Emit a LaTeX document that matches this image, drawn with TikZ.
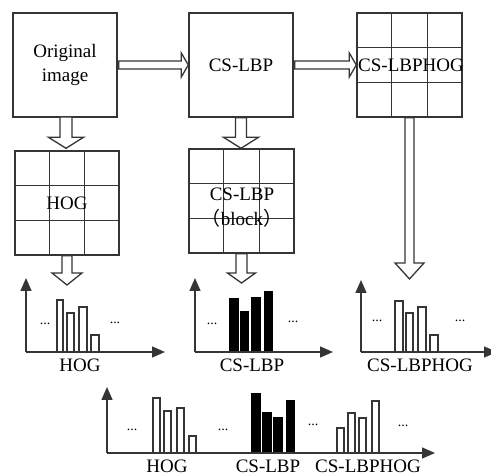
\documentclass[tikz,border=0pt]{standalone}
\usepackage{fontspec}
\setmainfont{Liberation Serif}
\newfontfamily\cjk{Noto Sans CJK SC}
\usetikzlibrary{arrows.meta,calc}
\definecolor{lc}{HTML}{353535}
\tikzset{
  boxline/.style={draw=lc, line width=1.4pt},
  bigbox/.style={boxline, minimum width=104pt, minimum height=104pt, inner sep=0pt, align=center, font=\fontsize{19}{24}\selectfont},
  gridbox/.style={boxline, minimum width=105pt, minimum height=104pt, inner sep=0pt},
  blockarrow/.style={draw=lc, line width=1.3pt, fill=white, line join=miter},
  axisline/.style={draw=lc, line width=1.4pt, -{Triangle[length=13pt,width=11pt]}},
  hbar/.style={draw=lc, line width=1.3pt, fill=white},
  bbar/.style={draw=black, line width=1.3pt, fill=black},
  lbl/.style={font=\fontsize{19}{24}\selectfont, inner sep=0pt},
  dotlbl/.style={font=\fontsize{14}{14}\selectfont, inner sep=0pt, anchor=base}
}
\newcommand{\gridlines}[1]{%
  \draw[boxline] ($(#1.north west)!1/3!(#1.north east)$) -- ($(#1.south west)!1/3!(#1.south east)$);
  \draw[boxline] ($(#1.north west)!2/3!(#1.north east)$) -- ($(#1.south west)!2/3!(#1.south east)$);
  \draw[boxline] ($(#1.north west)!1/3!(#1.south west)$) -- ($(#1.north east)!1/3!(#1.south east)$);
  \draw[boxline] ($(#1.north west)!2/3!(#1.south west)$) -- ($(#1.north east)!2/3!(#1.south east)$);}
\newcommand{\hblock}[2]{%
  \draw[blockarrow] let \p1=(#1), \p2=(#2) in
   (\x1+1pt,\y1+4pt) -- (\x2-7pt,\y1+4pt) -- (\x2-7pt,\y1+12pt) -- (\x2,\y1) -- (\x2-7pt,\y1-12pt) -- (\x2-7pt,\y1-4pt) -- (\x1+1pt,\y1-4pt) -- cycle;}
\newcommand{\vblock}[5]{%
  \draw[blockarrow] let \p1=(#1), \p2=(#2) in
   (\x1-#3,\y1) -- (\x1-#3,\y2+#5) -- (\x1-#4,\y2+#5) -- (\x1,\y2) -- (\x1+#4,\y2+#5) -- (\x1+#3,\y2+#5) -- (\x1+#3,\y1) -- cycle;}
\begin{document}
\begin{tikzpicture}[x=1pt,y=-1pt]
\useasboundingbox (0,0) rectangle (491,476);
% top row
\node[bigbox] (orig) at (65,65) {Original\\image};
\node[bigbox] (cslbp) at (241,65) {CS-LBP};
\node[gridbox] (lbphog) at (409.5,65) {};
\gridlines{lbphog}
\node[lbl] (lbphogtxt) at (411,65) {CS-LBPHOG};
% second row
\node[gridbox, minimum width=104pt] (hog) at (67,203) {};
\gridlines{hog}
\node[lbl] (hogtxt) at (hog.center) {HOG};
\node[gridbox] (block) at (241.5,201) {};
\gridlines{block}
\node[lbl, align=center, font=\fontsize{19}{25}\selectfont] (blocktxt) at (242,207.5) {CS-LBP\\{\cjk （}block{\cjk ）}};
% block arrows
\hblock{orig.east}{cslbp.west}
\hblock{cslbp.east}{lbphog.west}
\coordinate (origmid) at (66,117);
\vblock{origmid}{$(hog.north)+(0,-2)$}{6pt}{17.5pt}{11pt}
\vblock{cslbp.south}{$(block.north)+(0,0)$}{5.5pt}{17.5pt}{11pt}
\coordinate (hogin) at (67,285);
\coordinate (lbpin) at (241.5,283);
\coordinate (lbphogin) at (409.5,279);
\vblock{hog.south}{hogin}{5pt}{15pt}{12pt}
\vblock{block.south}{lbpin}{5.5pt}{14pt}{10pt}
\vblock{lbphog.south}{lbphogin}{4.5pt}{14.5pt}{16pt}
% HOG histogram
\coordinate (o1) at (26,352);
\foreach \a/\b/\t in {57/63/300,67/74/313,79/87/307,91/99/335}
  \draw[hbar] (\a,352) rectangle (\b,\t);
\coordinate (y1) at (26,278);
\coordinate (x1) at (165,352);
\draw[axisline] (o1) -- (y1);
\draw[axisline] (o1) -- (x1);
\node[dotlbl] (d1a) at (45,324.5) {...};
\node[dotlbl] (d1b) at (115,323.5) {...};
\node[lbl] (l1) at (80,365.5) {HOG};
% CS-LBP histogram
\coordinate (o2) at (195,352);
\foreach \a/\b/\t in {230/238/299,241/248/312,252/260/298,265/272/292}
  \draw[bbar] (\a,352) rectangle (\b,\t);
\coordinate (y2) at (195,278);
\coordinate (x2) at (333,352);
\draw[axisline] (o2) -- (y2);
\draw[axisline] (o2) -- (x2);
\node[dotlbl] (d2a) at (212,324.5) {...};
\node[dotlbl] (d2b) at (293,322.5) {...};
\node[lbl] (l2) at (252,365.5) {CS-LBP};
% CS-LBPHOG histogram
\coordinate (o3) at (361,352);
\foreach \a/\b/\t in {395/403/301,406/413/313,418/426/307,430/438/335}
  \draw[hbar] (\a,352) rectangle (\b,\t);
\coordinate (y3) at (361,280);
\coordinate (x3) at (497,352);
\draw[axisline] (o3) -- (y3);
\draw[axisline] (o3) -- (x3);
\node[dotlbl] (d3a) at (377,321.5) {...};
\node[dotlbl] (d3b) at (460,321.5) {...};
\node[lbl] (l3) at (420,365.5) {CS-LBPHOG};
% combined histogram
\coordinate (o4) at (107,453);
\foreach \a/\b/\t in {153/160/398,164/171/411,177/184/408,189/196/436,337/344/428,348/355/413,359/366/418,372/379/401}
  \draw[hbar] (\a,453) rectangle (\b,\t);
\foreach \a/\b/\t in {252/260/394,263/271/413,274/282/418,287/294/401}
  \draw[bbar] (\a,453) rectangle (\b,\t);
\coordinate (y4) at (107,387);
\coordinate (x4) at (435,453);
\draw[axisline] (o4) -- (y4);
\draw[axisline] (o4) -- (x4);
\node[dotlbl] (d4a) at (132,430.5) {...};
\node[dotlbl] (d4b) at (223,430.5) {...};
\node[dotlbl] (d4c) at (313,425.5) {...};
\node[dotlbl] (d4d) at (403,426.5) {...};
\node[lbl] (l4a) at (167,466.5) {HOG};
\node[lbl] (l4b) at (268,466.5) {CS-LBP};
\node[lbl] (l4c) at (368,466.5) {CS-LBPHOG};
\end{tikzpicture}
\end{document}
